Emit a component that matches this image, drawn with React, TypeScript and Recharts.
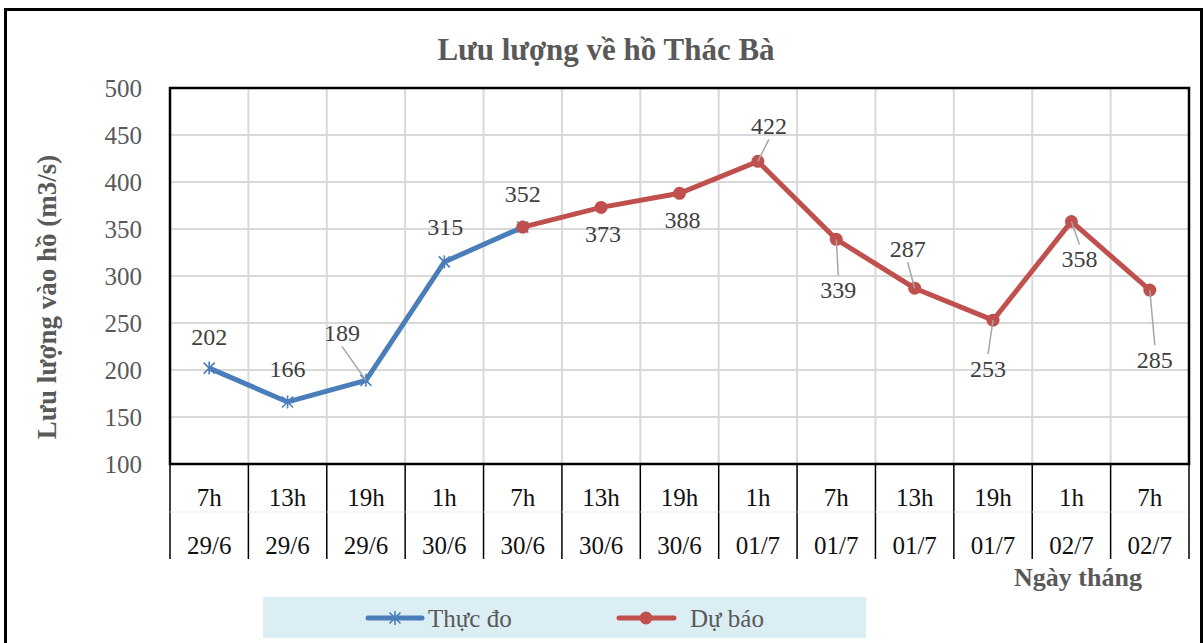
import { LineChart, Line, XAxis, YAxis, CartesianGrid, ReferenceArea, LabelList } from 'recharts'

const hours = ['7h', '13h', '19h', '1h', '7h', '13h', '19h', '1h', '7h', '13h', '19h', '1h', '7h']
const dates = ['29/6', '29/6', '29/6', '30/6', '30/6', '30/6', '30/6', '01/7', '01/7', '01/7', '01/7', '02/7', '02/7']
const thucDo = [202, 166, 189, 315, 352, null, null, null, null, null, null, null, null]
const duBao = [null, null, null, null, 352, 373, 388, 422, 339, 287, 253, 358, 285]
const yTicks = [100, 150, 200, 250, 300, 350, 400, 450, 500]

// label placement relative to each point: [dx, dy, leader line]; null = no label
type LabelPos = [number, number, boolean] | null
const thucDoLabelPos: LabelPos[] = [
  [0, -31, false],
  [0, -33, false],
  [-24, -47, true],
  [1, -35, false],
  [0, -33, false],
]
const duBaoLabelPos: LabelPos[] = [
  null,
  null,
  null,
  null,
  null, // 352 already labelled on the measured series
  [2, 27, false],
  [3, 27, false],
  [11, -35, true],
  [2, 51, true],
  [-7, -39, true],
  [-5, 49, true],
  [8, 38, true],
  [5, 70, true],
]

const W = 1204
const H = 643
const margin = { top: 88, right: 15, bottom: 79, left: 90 }
const Y_AXIS_W = 80
const X_AXIS_H = 100
const plotW = W - margin.left - Y_AXIS_W - margin.right
const catW = plotW / hours.length

const BLUE = '#4a7ebb'
const RED = '#c0504d'
const FONT = '"Liberation Serif", "Times New Roman", serif'

const data = hours.map((h, i) => ({
  x: i + 0.5,
  hour: h,
  date: dates[i],
  thucDo: thucDo[i],
  duBao: duBao[i],
}))

function XTick(props: any) {
  const { x, y, payload } = props
  const i = payload.value
  return (
    <g>
      <line x1={x} y1={y} x2={x} y2={y + 95} stroke="#000" strokeWidth={1.5} />
      {i < hours.length && (
        <g fontFamily={FONT} fontSize={25} fill="#111" textAnchor="middle">
          <line x1={x} y1={y + 48} x2={x + catW} y2={y + 48} stroke="#ececec" strokeWidth={1} />
          <text x={x + catW / 2} y={y + 33} dominantBaseline="central">{hours[i]}</text>
          <text x={x + catW / 2} y={y + 81} dominantBaseline="central">{dates[i]}</text>
        </g>
      )}
    </g>
  )
}

function YTick(props: any) {
  const { x, y, payload } = props
  return (
    <text x={x} y={y} textAnchor="end" dominantBaseline="central" fontFamily={FONT} fontSize={25} fill="#595959">
      {payload.value}
    </text>
  )
}

function makeLabel(pos: LabelPos[]) {
  return (props: any) => {
    const { x, y, value, index } = props
    if (value == null) return null
    const p = pos[index]
    if (!p) return null
    const [dx, dy, leader] = p
    const cx = x + dx
    const cy = y + dy
    const endY = dy > 0 ? cy - 15 : cy + 13
    return (
      <g>
        {leader && <line x1={x} y1={y} x2={cx} y2={endY} stroke="#a6a6a6" strokeWidth={1.5} />}
        <text
          x={cx}
          y={cy}
          textAnchor="middle"
          dominantBaseline="central"
          fontFamily={FONT}
          fontSize={24}
          fill="#404040"
        >
          {value}
        </text>
      </g>
    )
  }
}

function StarDot(props: any) {
  const { cx, cy, value } = props
  if (value == null || cx == null || cy == null) return null
  const r = 5.5
  return (
    <g stroke={BLUE} strokeWidth={1.6}>
      <line x1={cx - r} y1={cy - r} x2={cx + r} y2={cy + r} />
      <line x1={cx - r} y1={cy + r} x2={cx + r} y2={cy - r} />
      <line x1={cx} y1={cy - r - 1} x2={cx} y2={cy + r + 1} />
    </g>
  )
}

export default function App() {
  return (
    <div style={{ position: 'absolute', left: 0, top: 0, width: W, height: H, overflow: 'hidden', background: '#fff' }}>
      <div
        style={{
          position: 'absolute',
          left: 4,
          top: 8,
          width: 1193,
          height: 660,
          border: '3px solid #000',
        }}
      />
      <div style={{ position: 'absolute', left: 0, top: 0 }}>
        <LineChart width={W} height={H} data={data} margin={margin}>
          <CartesianGrid stroke="#d9d9d9" strokeWidth={2} />
          <XAxis
            dataKey="x"
            type="number"
            domain={[0, hours.length]}
            ticks={hours.map((_, i) => i).concat(hours.length)}
            interval={0}
            height={X_AXIS_H}
            axisLine={false}
            tickLine={false}
            tickSize={0}
            tickMargin={0}
            tick={<XTick />}
          />
          <YAxis
            domain={[100, 500]}
            ticks={yTicks}
            width={Y_AXIS_W}
            axisLine={false}
            tickLine={false}
            tickMargin={22}
            interval={0}
            tick={<YTick />}
          />
          <ReferenceArea x1={0} x2={hours.length} y1={100} y2={500} fill="none" stroke="#000" strokeWidth={2.5} />
          <Line
            dataKey="thucDo"
            stroke={BLUE}
            strokeWidth={5}
            dot={<StarDot />}
            activeDot={false}
            connectNulls={false}
            isAnimationActive={false}
          >
            <LabelList dataKey="thucDo" content={makeLabel(thucDoLabelPos)} />
          </Line>
          <Line
            dataKey="duBao"
            stroke={RED}
            strokeWidth={5}
            dot={{ r: 6.5, fill: RED, stroke: RED, strokeWidth: 0 }}
            activeDot={false}
            connectNulls={false}
            isAnimationActive={false}
          >
            <LabelList dataKey="duBao" content={makeLabel(duBaoLabelPos)} />
          </Line>
        </LineChart>
      </div>
      <svg
        width={W}
        height={H}
        style={{ position: 'absolute', left: 0, top: 0, pointerEvents: 'none' }}
        fontFamily={FONT}
      >
        <text x={606} y={49} textAnchor="middle" dominantBaseline="central" fontSize={31} fontWeight="bold" fill="#595959">
          Lưu lượng về hồ Thác Bà
        </text>
        <text
          x={0}
          y={0}
          transform="translate(47,297) rotate(-90)"
          textAnchor="middle"
          dominantBaseline="central"
          fontSize={27}
          fontWeight="bold"
          fill="#595959"
        >
          Lưu lượng vào hồ (m3/s)
        </text>
        <text x={1078} y={577} textAnchor="middle" dominantBaseline="central" fontSize={26} fontWeight="bold" fill="#595959">
          Ngày tháng
        </text>
        <rect x={263} y={597} width={603} height={41} fill="#dbeef4" />
        <line x1={368} y1={618} x2={422} y2={618} stroke={BLUE} strokeWidth={5} strokeLinecap="round" />
        <g stroke={BLUE} strokeWidth={1.6}>
          <line x1={389.5} y1={612.5} x2={400.5} y2={623.5} />
          <line x1={389.5} y1={623.5} x2={400.5} y2={612.5} />
          <line x1={395} y1={611} x2={395} y2={625} />
        </g>
        <text x={428} y={618} dominantBaseline="central" fontSize={25} fill="#595959">Thực đo</text>
        <line x1={619} y1={618} x2={674} y2={618} stroke={RED} strokeWidth={5} strokeLinecap="round" />
        <circle cx={646} cy={618} r={6.5} fill={RED} />
        <text x={690} y={618} dominantBaseline="central" fontSize={25} fill="#595959">Dự báo</text>
      </svg>
    </div>
  )
}
